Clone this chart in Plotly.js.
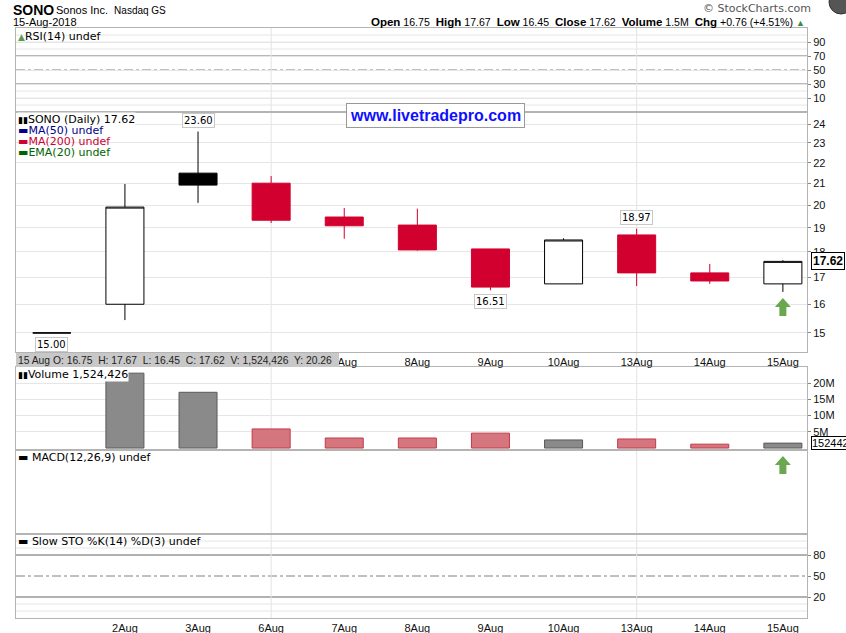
<!DOCTYPE html>
<html><head><meta charset="utf-8">
<script src="https://cdn.plot.ly/plotly-3.0.1.min.js"></script>
<style>html,body{margin:0;padding:0;background:#fff}</style>
</head><body><div id="chart" style="width:846px;height:633px"></div>
<script>
// ---- data ----
const dates  = ['1Aug','2Aug','3Aug','6Aug','7Aug','8Aug','9Aug','10Aug','13Aug','14Aug','15Aug'];
const openP  = [15.00, 16.00, 21.49, 21.01, 19.47, 19.12, 18.12, 16.75, 18.70, 17.17, 16.75];
const highP  = [15.00, 20.97, 23.60, 21.35, 19.87, 19.84, 18.12, 18.56, 18.97, 17.52, 17.67];
const lowP   = [15.00, 15.44, 20.10, 19.21, 18.54, 18.05, 16.51, 16.75, 16.67, 16.75, 16.45];
const closeP = [15.00, 19.91, 20.92, 19.33, 19.09, 18.08, 16.63, 18.49, 17.17, 16.86, 17.62];
const volume = [null, 23100000, 17200000, 5900000, 3100000, 3100000, 4600000, 2500000, 2800000, 1200000, 1524426];
const priceTicks = [15,16,17,18,19,20,21,22,23,24];
const volTicks = [5e6,10e6,15e6,20e6];
const volTickText = ['5M','10M','15M','20M'];
const rsiTicks = [90,70,50,30,10];
const stoTicks = [80,50,20];
const weekStarts = ['6Aug','13Aug'];
const bandDates = ['7Aug','8Aug','9Aug','10Aug','13Aug','14Aug','15Aug'];
const labelHighs = ['3Aug','13Aug'];
const labelLows = ['1Aug','9Aug'];

// ---- geometry helpers (layout only) ----
const L=16, R=807, T=28, B=618;
const px = x => (x-L)/(R-L);
const py = y => (B-y)/(B-T);
const SANS = 'DejaVu Sans, Verdana, sans-serif';
const ARIAL = 'Liberation Sans, Arial, sans-serif';
const RED = '#d2002e';

const idx = dates.map((d,i)=>i);
const last = dates.length-1;
const up = idx.map(i => i===0 || closeP[i] >= closeP[i-1]);
const pick = (arr, flag) => idx.filter(i=>up[i]===flag).map(i=>arr[i]);

const traces = [];
traces.push({type:'scatter', x:[], y:[], xaxis:'x', yaxis:'y', hoverinfo:'skip'});
traces.push({type:'scatter', x:[], y:[], xaxis:'x2', yaxis:'y2', hoverinfo:'skip'});
traces.push({type:'scatter', x:[], y:[], xaxis:'x5', yaxis:'y5', hoverinfo:'skip'});
traces.push({type:'bar', x:idx, y:volume, xaxis:'x3', yaxis:'y3', hoverinfo:'skip',
  marker:{color: up.map(u=>u?'#8a8a8a':'#d5767f'), line:{color: up.map(u=>u?'#5a5a5a':'#c23a48'), width:1}}});
traces.push({type:'candlestick', xaxis:'x4', yaxis:'y4', hoverinfo:'skip', whiskerwidth:0,
  x:pick(idx,true), open:pick(openP,true), high:pick(highP,true), low:pick(lowP,true), close:pick(closeP,true),
  increasing:{line:{color:'#000',width:1}, fillcolor:'#ffffff'},
  decreasing:{line:{color:'#000',width:1}, fillcolor:'#000000'}});
traces.push({type:'candlestick', xaxis:'x4', yaxis:'y4', hoverinfo:'skip', whiskerwidth:0,
  x:pick(idx,false), open:pick(openP,false), high:pick(highP,false), low:pick(lowP,false), close:pick(closeP,false),
  increasing:{line:{color:RED,width:1}, fillcolor:'#ffffff'},
  decreasing:{line:{color:RED,width:1}, fillcolor:RED}});

const xr = [-0.49, 10.33];
function xax(anchor, labels, tv){
  tv = tv || dates.slice(1);
  return {anchor, range:xr, domain:[0,1], tickmode:'array', tickvals:tv.map(d=>dates.indexOf(d)), ticktext:tv,
    showticklabels:labels, showgrid:false, zeroline:false, showline:true, mirror:true, linecolor:'#b4b4b4',
    ticks:'', tickfont:{family:ARIAL,size:11,color:'#111'}, fixedrange:true, rangeslider:{visible:false}};
}
function yax(anchor, dom, extra){
  return Object.assign({anchor, domain:dom, side:'right', showline:true, mirror:true, linecolor:'#b4b4b4',
    zeroline:false, gridcolor:'#e6e6e6', ticks:'outside', ticklen:3, tickcolor:'#888',
    tickfont:{family:ARIAL,size:11,color:'#111'}, fixedrange:true}, extra);
}

const layout = {
  width:846, height:633, margin:{l:L, r:846-R, t:T, b:633-B},
  paper_bgcolor:'#fff', plot_bgcolor:'#fff', showlegend:false,
  boxgap:0.48, boxgroupgap:0, bargap:0.48, hovermode:false,
  xaxis: xax('y', true), xaxis2: xax('y2', false), xaxis3: xax('y3', false),
  xaxis4: xax('y4', true, bandDates), xaxis5: xax('y5', false),
  yaxis: yax('x', [0, py(534)], {range:[-10,110], tickmode:'array', tickvals:stoTicks, showgrid:false}),
  yaxis2: yax('x2', [py(534), py(450)], {range:[0,1], showticklabels:false, showgrid:false, ticks:''}),
  yaxis3: yax('x3', [py(450), py(367)], {range:[-0.6e6, 25e6], tickmode:'array', tickvals:volTicks, ticktext:volTickText}),
  yaxis4: yax('x4', [py(352), py(112)], {type:'log', range:[Math.log10(14.37), Math.log10(24.66)], tickmode:'array', tickvals:priceTicks, ticktext:priceTicks.map(String)}),
  yaxis5: yax('x5', [py(112), 1], {range:[-10,110], tickmode:'array', tickvals:rsiTicks}),
  shapes: [], annotations: []
};

// oscillator guide lines
[['y5','x5 domain',[70,30]],['y','x domain',[80,20]]].forEach(([ya,xa,dark])=>{
  [100,90,80,20,10,0].forEach(v=>layout.shapes.push({type:'line', xref:xa, yref:ya, x0:0, x1:1, y0:v, y1:v, line:{color:'#e6e6e6',width:1}, layer:'below'}));
  dark.forEach(v=>layout.shapes.push({type:'line', xref:xa, yref:ya, x0:0, x1:1, y0:v, y1:v, line:{color:'#707070',width:1}, layer:'below'}));
  layout.shapes.push({type:'line', xref:xa, yref:ya, x0:0, x1:1, y0:50, y1:50, line:{color:'#808080',width:1,dash:'dashdot'}, layer:'below'});
});
// weekly vertical gridlines
weekStarts.forEach(w=>layout.shapes.push({type:'line', xref:'x', yref:'paper', x0:dates.indexOf(w), x1:dates.indexOf(w), y0:0, y1:1, line:{color:'#e3e3e3',width:1}, layer:'below'}));
// support line at latest low
layout.shapes.push({type:'line', xref:'x4 domain', yref:'y4', x0:0, x1:1, y0:Math.log10(lowP[last]), y1:Math.log10(lowP[last]), line:{color:'#6aa84f',width:2}, layer:'above'});
// green arrows
const arrowPath = 'M -8 0 L 0 9 L 8 0 L 3.5 0 L 3.5 -9 L -3.5 -9 L -3.5 0 Z';
layout.shapes.push({type:'path', xref:'x4', yref:'y4', xsizemode:'pixel', ysizemode:'pixel', xanchor:last, yanchor:15.9, path:arrowPath, fillcolor:'#6aa84f', line:{width:0}, layer:'above'});
layout.shapes.push({type:'path', xref:'x2', yref:'y2', xsizemode:'pixel', ysizemode:'pixel', xanchor:last, yanchor:0.82, path:arrowPath, fillcolor:'#6aa84f', line:{width:0}, layer:'above'});
// date band summary box
layout.shapes.push({type:'rect', xref:'paper', yref:'paper', x0:0, x1:px(339), y0:py(367), y1:py(353), fillcolor:'#c8c8c8', line:{width:0}, layer:'above'});
// logo circle top-right
layout.shapes.push({type:'circle', xref:'paper', yref:'paper', x0:px(829), x1:px(853), y0:py(14), y1:py(-10), fillcolor:'#555', line:{color:'#333',width:1}, layer:'above'});

const A = layout.annotations;
function txt(text, x, y, opts){
  A.push(Object.assign({xref:'paper', yref:'paper', x:px(x), y:py(y), text, showarrow:false, xanchor:'left', yanchor:'middle',
    borderpad:0, font:{family:SANS,size:11,color:'#000'}}, opts||{}));
}
// header
txt('<b>SONO</b>', 12, 10, {font:{family:ARIAL,size:14,color:'#000'}});
txt('Sonos Inc.  <span style="font-size:10px">Nasdaq GS</span>', 55, 10, {font:{family:ARIAL,size:11,color:'#000'}});
txt('15-Aug-2018', 12, 22, {font:{family:ARIAL,size:11,color:'#000'}});
const chg = closeP[last]-closeP[last-1];
const pct = chg/closeP[last-1]*100;
const lb = s => '<span style="font-size:11.5px"><b>'+s+'</b></span>';
txt(lb('Open')+' '+openP[last].toFixed(2)+'  '+lb('High')+' '+highP[last].toFixed(2)+'  '+lb('Low')+' '+lowP[last].toFixed(2)+
    '  '+lb('Close')+' '+closeP[last].toFixed(2)+'  '+lb('Volume')+' '+(volume[last]/1e6).toFixed(1)+'M  '+lb('Chg')+' +'+chg.toFixed(2)+
    ' (+'+pct.toFixed(2)+'%) <span style="color:#3a8a3a;font-size:9px">▲</span>', 806, 22, {xanchor:'right', font:{family:ARIAL,size:10.6,color:'#000'}});
txt('© StockCharts.com', 812, 8, {xanchor:'right', font:{family:SANS,size:11,color:'#555'}});
// panel labels
txt('<span style="color:#5a9a5a;font-size:9px">▲</span>RSI(14) undef', 17, 36);
txt('<span style="font-size:9px">▮▮</span>SONO (Daily) '+closeP[last].toFixed(2), 17, 119, {bgcolor:'#fff'});
txt('<span style="color:#00008b">▬MA(50) undef</span>', 17, 130);
txt('<span style="color:#cc0033">▬MA(200) undef</span>', 17, 141);
txt('<span style="color:#006400">▬EMA(20) undef</span>', 17, 152);
txt('<span style="font-size:9px">▮▮</span>Volume '+volume[last].toLocaleString('en-US'), 17, 374, {bgcolor:'#fff'});
txt('▬ MACD(12,26,9) undef', 17, 457);
txt('▬ Slow STO %K(14) %D(3) undef', 17, 541);
// date band summary
txt(dates[last].replace(/(\d+)/,'$1 ')+' O: '+openP[last].toFixed(2)+'  H: '+highP[last].toFixed(2)+'  L: '+lowP[last].toFixed(2)+
    '  C: '+closeP[last].toFixed(2)+'  V: '+volume[last].toLocaleString('en-US')+'  Y: 20.26', 17, 360, {font:{family:ARIAL,size:10.3,color:'#222'}});
// watermark
txt('<b>www.livetradepro.com</b>', 435, 115, {xanchor:'center', font:{family:ARIAL,size:16,color:'#1010ff'}, bordercolor:'#999', borderwidth:1, borderpad:3, bgcolor:'#fff'});
// candle value labels
labelHighs.forEach(d=>{ const i=dates.indexOf(d);
  A.push({xref:'x4', yref:'y4', x:i, y:Math.log10(highP[i]), text:highP[i].toFixed(2), showarrow:false, yanchor:'bottom', yshift:4,
    font:{family:SANS,size:10,color:'#000'}, bordercolor:'#c8c8c8', borderwidth:1, borderpad:1, bgcolor:'#fff'}); });
labelLows.forEach(d=>{ const i=dates.indexOf(d);
  A.push({xref:'x4', yref:'y4', x:i, y:Math.log10(lowP[i]), text:lowP[i].toFixed(2), showarrow:false, yanchor:'top', yshift:-4,
    font:{family:SANS,size:10,color:'#000'}, bordercolor:'#c8c8c8', borderwidth:1, borderpad:1, bgcolor:'#fff'}); });
// last value tags on right axis
A.push({xref:'paper', yref:'y4', x:1, y:Math.log10(closeP[last]), text:'<b>'+closeP[last].toFixed(2)+'</b>', showarrow:false, xanchor:'left', xshift:4,
  font:{family:ARIAL,size:12,color:'#000'}, bordercolor:'#000', borderwidth:1, borderpad:1, bgcolor:'#fff'});
A.push({xref:'paper', yref:'y3', x:1, y:volume[last], text:String(volume[last]).slice(0,6), showarrow:false, xanchor:'left', xshift:4,
  font:{family:ARIAL,size:11,color:'#000'}, bordercolor:'#000', borderwidth:1, borderpad:0, bgcolor:'#fff'});

Plotly.newPlot('chart', traces, layout, {displayModeBar:false, staticPlot:true});
</script></body></html>
